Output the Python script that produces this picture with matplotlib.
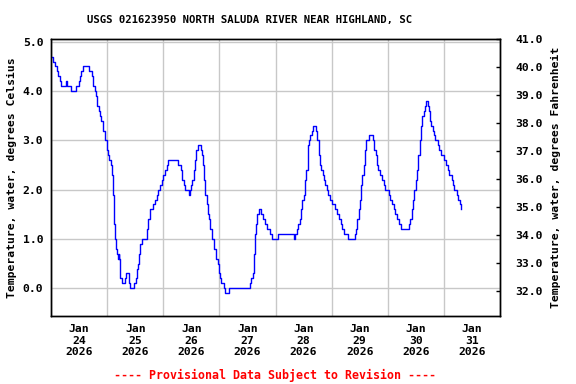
import matplotlib
matplotlib.use("Agg")
import matplotlib.pyplot as plt
import matplotlib.dates as mdates
from matplotlib.ticker import FixedLocator, FormatStrFormatter
import numpy as np
import pandas as pd

# hours after 2026-01-24 00:00 and water temperature (deg C)
hours = [0.3, 1.0, 1.7, 2.4, 3.1, 3.9, 4.1, 6.0, 6.4, 7.0, 8.1, 8.4, 10.4, 10.7,
         12.0, 12.4, 12.7, 13.4, 13.8, 16.0, 16.3, 17.0, 17.4, 17.8, 18.1, 18.8,
         19.3, 19.8, 20.4, 21.0, 21.5, 22.1, 22.7, 23.2, 23.8, 24.4, 25.0, 25.5,
         26.1, 26.5, 27.0, 27.4, 27.8, 28.2, 28.7, 29.0, 29.2, 29.7, 30.2, 30.9,
         31.7, 32.1, 32.9, 33.4, 33.8, 35.2, 35.7, 36.2, 36.7, 37.1, 37.7, 38.2,
         38.8, 40.5, 40.9, 41.6, 42.4, 43.1, 43.8, 44.5, 45.2, 45.9, 46.6, 47.4,
         48.1, 48.8, 49.5, 50.2, 53.8, 54.2, 54.8, 55.5, 56.2, 56.8, 57.3, 58.0,
         58.8, 59.3, 59.9, 60.5, 61.0, 61.6, 62.2, 62.8, 63.6, 64.2, 64.6, 65.0,
         65.5, 65.9, 66.5, 67.0, 67.6, 68.2, 68.7, 69.5, 69.9, 70.6, 71.2, 71.7,
         72.3, 72.9, 74.0, 74.6, 75.9, 76.0, 84.4, 84.9, 85.7, 86.3, 86.9, 87.3,
         87.7, 88.3, 88.8, 89.6, 89.7, 90.4, 90.8, 91.6, 92.3, 93.0, 93.7, 94.4,
         96.5, 97.0, 103.7, 104.0, 104.5, 105.4, 105.8, 106.4, 107.0, 107.5,
         108.1, 108.7, 109.2, 109.7, 110.1, 110.5, 110.9, 111.5, 112.1, 112.9,
         113.2, 113.8, 114.4, 114.9, 115.5, 116.1, 116.7, 117.2, 117.9, 118.6,
         119.2, 120.1, 120.9, 121.5, 122.4, 123.1, 123.8, 124.6, 125.5, 126.4,
         126.9, 129.3, 129.8, 130.3, 130.9, 131.5, 132.1, 132.6, 133.2, 133.8,
         134.3, 134.9, 136.0, 137.2, 137.8, 138.3, 138.9, 139.5, 140.0, 140.6,
         141.5, 142.2, 142.9, 143.9, 144.5, 145.0, 145.7, 146.5, 147.2, 147.9,
         148.6, 149.3, 149.6, 152.4, 152.9, 153.6, 154.2, 154.7, 155.3, 155.9,
         156.4, 157.0, 157.6, 158.2, 158.7, 159.3, 159.9, 160.4, 161.0, 161.6,
         162.1, 162.7, 163.3, 163.9, 164.4, 165.0, 165.6, 166.1, 166.7, 167.3,
         167.9, 168.7, 169.6, 170.4, 171.3, 171.8, 172.4, 173.0, 173.6, 174.1,
         174.7, 175.3]
temp_c = [4.7, 4.6, 4.5, 4.4, 4.3, 4.2, 4.1, 4.1, 4.2, 4.1, 4.1, 4.0, 4.0, 4.1,
          4.2, 4.3, 4.4, 4.4, 4.5, 4.5, 4.4, 4.4, 4.3, 4.2, 4.1, 4.0,
          3.9, 3.7, 3.6, 3.5, 3.4, 3.2, 3.2, 3.0, 2.8, 2.7, 2.6, 2.5,
          2.3, 1.9, 1.3, 1.0, 0.8, 0.7, 0.6, 0.7, 0.6, 0.2, 0.1, 0.1,
          0.2, 0.3, 0.3, 0.1, 0.0, 0.0, 0.1, 0.2, 0.4, 0.5, 0.7, 0.9,
          1.0, 1.0, 1.2, 1.4, 1.6, 1.6, 1.7, 1.8, 1.9, 2.0, 2.1, 2.2,
          2.3, 2.4, 2.5, 2.6, 2.6, 2.5, 2.5, 2.4, 2.2, 2.1, 2.0, 2.0,
          1.9, 2.0, 2.1, 2.2, 2.4, 2.6, 2.8, 2.9, 2.9, 2.8, 2.7, 2.5,
          2.2, 1.9, 1.7, 1.5, 1.4, 1.2, 1.0, 0.9, 0.8, 0.6, 0.5, 0.3,
          0.2, 0.1, 0.0, -0.1, -0.1, 0.0, 0.0, 0.1, 0.2, 0.3, 0.7, 1.1,
          1.3, 1.5, 1.6, 1.6, 1.5, 1.5, 1.4, 1.3, 1.2, 1.2, 1.1, 1.0,
          1.0, 1.1, 1.1, 1.0, 1.1, 1.2, 1.3, 1.4, 1.6, 1.8,
          1.9, 2.2, 2.4, 2.6, 2.9, 3.0, 3.1, 3.2, 3.3, 3.3,
          3.2, 3.0, 2.7, 2.5, 2.4, 2.3, 2.2, 2.1, 2.0, 1.9,
          1.8, 1.7, 1.7, 1.6, 1.5, 1.4, 1.3, 1.2, 1.1, 1.1,
          1.0, 1.0, 1.1, 1.2, 1.4, 1.6, 1.8, 2.1, 2.3, 2.5,
          2.8, 3.0, 3.1, 3.1, 3.0, 2.8, 2.7, 2.5, 2.4, 2.3,
          2.2, 2.1, 2.0, 2.0, 1.9, 1.8, 1.7, 1.6, 1.5, 1.4,
          1.3, 1.3, 1.2, 1.2, 1.3, 1.4, 1.6, 1.8, 2.0, 2.2,
          2.4, 2.7, 3.0, 3.3, 3.5, 3.6, 3.7, 3.8, 3.7, 3.6,
          3.4, 3.3, 3.2, 3.1, 3.0, 3.0, 2.9, 2.8, 2.7, 2.7,
          2.6, 2.5, 2.4, 2.3, 2.2, 2.1, 2.0, 2.0, 1.9, 1.8,
          1.7, 1.6]

START = pd.Timestamp("2026-01-24 00:00")
END = pd.Timestamp("2026-02-01 00:00")
TITLE = "USGS 021623950 NORTH SALUDA RIVER NEAR HIGHLAND, SC"
LEFT_LABEL = "Temperature, water, degrees Celsius"
RIGHT_LABEL = "Temperature, water, degrees Fahrenheit"
c_ticks = [0, 1, 2, 3, 4, 5]
f_ticks = [32, 33, 34, 35, 36, 37, 38, 39, 40, 41]

FONT = "DejaVu Sans Mono"
GRID = "#c8c8c8"


def main():
	times = START + pd.to_timedelta(hours, unit="h")

	W, H = 576, 384
	fig = plt.figure(figsize=(W / 100, H / 100), dpi=100, facecolor="w")
	ax = fig.add_axes([51 / W, 1 - 316 / H, 449 / W, 277 / H])

	ax.plot(times, temp_c, color=(0, 0, 1), lw=1.0, drawstyle="steps-post", zorder=3)

	ax.set_xlim(START, END)
	ax.set_ylim(-0.563, 5.057)

	# labels at noon, grid at midnight
	ax.xaxis.set_major_locator(mdates.HourLocator(byhour=12))
	ax.xaxis.set_major_formatter(mdates.DateFormatter("%b\n%d\n%Y"))
	ax.xaxis.set_minor_locator(mdates.DayLocator())
	ax.grid(True, which="minor", axis="x", color=GRID, lw=1.0)
	ax.grid(False, which="major", axis="x")
	ax.yaxis.set_major_locator(FixedLocator(c_ticks))
	ax.yaxis.set_major_formatter(FormatStrFormatter("%.1f"))
	ax.grid(True, which="major", axis="y", color=GRID, lw=1.0)
	ax.set_axisbelow(True)

	ax.tick_params(axis="x", which="both", length=0, pad=6)
	ax.tick_params(axis="y", length=0, pad=5.5)
	for lab in ax.get_xticklabels() + ax.get_yticklabels():
		lab.set_fontfamily(FONT)
		lab.set_fontweight("bold")
		lab.set_fontsize(8.2)
	for lab in ax.get_xticklabels():
		lab.set_linespacing(1.15)

	ax.set_ylabel(LEFT_LABEL, fontfamily=FONT, fontweight="bold", fontsize=8.2, labelpad=4)

	# Fahrenheit axis on the right
	ax2 = ax.twinx()
	ax2.set_ylim(31.12, 41.0)
	ax2.yaxis.set_major_locator(FixedLocator(f_ticks))
	ax2.yaxis.set_major_formatter(FormatStrFormatter("%.1f"))
	ax2.tick_params(axis="y", direction="in", length=3, width=1, pad=11)
	for lab in ax2.get_yticklabels():
		lab.set_fontfamily(FONT)
		lab.set_fontweight("bold")
		lab.set_fontsize(8.2)
	ax2.set_ylabel(RIGHT_LABEL, fontfamily=FONT, fontweight="bold", fontsize=8.2, labelpad=6)

	for a in (ax, ax2):
		for spine in a.spines.values():
			spine.set_color("black")
			spine.set_linewidth(1.0)

	fig.text(250 / W, 1 - 20 / H, TITLE, ha="center", va="center",
	         fontfamily=FONT, fontweight="bold", fontsize=7.7)
	fig.text(275 / W, 1 - 375 / H, "---- Provisional Data Subject to Revision ----",
	         ha="center", va="center", color="red",
	         fontfamily=FONT, fontweight="bold", fontsize=8.4)

	fig.savefig("out.png", dpi=100)


if __name__ == '__main__':
	main()
